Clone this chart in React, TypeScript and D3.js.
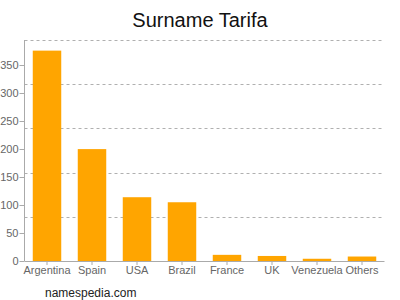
import React from "react";
import * as d3 from "d3";

const title = "Surname Tarifa";
const categories = ["Argentina", "Spain", "USA", "Brazil", "France", "UK", "Venezuela", "Others"];
const counts = [376, 200, 114, 105, 11, 9, 4, 8];
const yTicks = [0, 50, 100, 150, 200, 250, 300, 350];
const yMax = 395;
const gridDivisions = 5;
const footer = "namespedia.com";

const W = 400;
const H = 300;
const left = 24.5;
const right = 384.5;
const top = 40;
const bottom = 261;

export default function App() {
  const x = d3
    .scaleBand<string>()
    .domain(categories)
    .range([left, right])
    .paddingInner(0.367)
    .paddingOuter(0.1835);
  const y = d3.scaleLinear().domain([0, yMax]).range([bottom, top]);
  const grid = d3.range(1, gridDivisions + 1).map((i) => (yMax * i) / gridDivisions);
  const font = "Arial, 'Liberation Sans', Helvetica, sans-serif";
  const axisColor = "#aaaaaa";
  const labelColor = "#666666";

  return (
    <svg
      width={W}
      height={H}
      style={{ position: "absolute", left: 0, top: 0, background: "#fff" }}
      fontFamily={font}
    >
      <text x={W / 2} y={27} textAnchor="middle" fontSize={20} fill="#111">
        {title}
      </text>
      {grid.map((g) => (
        <line
          key={g}
          x1={left}
          x2={right}
          y1={Math.round(y(g)) + 0.5}
          y2={Math.round(y(g)) + 0.5}
          stroke="#b0b0b0"
          strokeDasharray="3,3"
        />
      ))}
      {categories.map((c, i) => (
        <rect
          key={c}
          x={x(c)}
          y={y(counts[i])}
          width={x.bandwidth()}
          height={bottom - y(counts[i])}
          fill="#ffa500"
        />
      ))}
      <line x1={left} x2={left} y1={top} y2={bottom} stroke={axisColor} />
      <line x1={left} x2={right} y1={bottom + 0.5} y2={bottom + 0.5} stroke={axisColor} />
      {yTicks.map((t) => (
        <g key={t}>
          <line
            x1={left - 5}
            x2={left}
            y1={Math.round(y(t)) + 0.5}
            y2={Math.round(y(t)) + 0.5}
            stroke={axisColor}
          />
          <text
            x={left - 6}
            y={y(t)}
            dy="0.35em"
            textAnchor="end"
            fontSize={11}
            fill={labelColor}
          >
            {t}
          </text>
        </g>
      ))}
      {categories.map((c) => {
        const cx = (x(c) as number) + x.bandwidth() / 2;
        return (
          <g key={c}>
            <line x1={cx} x2={cx} y1={bottom} y2={bottom + 4} stroke={axisColor} />
            <text x={cx} y={bottom + 13} textAnchor="middle" fontSize={11} fill={labelColor}>
              {c}
            </text>
          </g>
        );
      })}
      <text x={45} y={297} fontSize={12} fill="#222">
        {footer}
      </text>
    </svg>
  );
}
